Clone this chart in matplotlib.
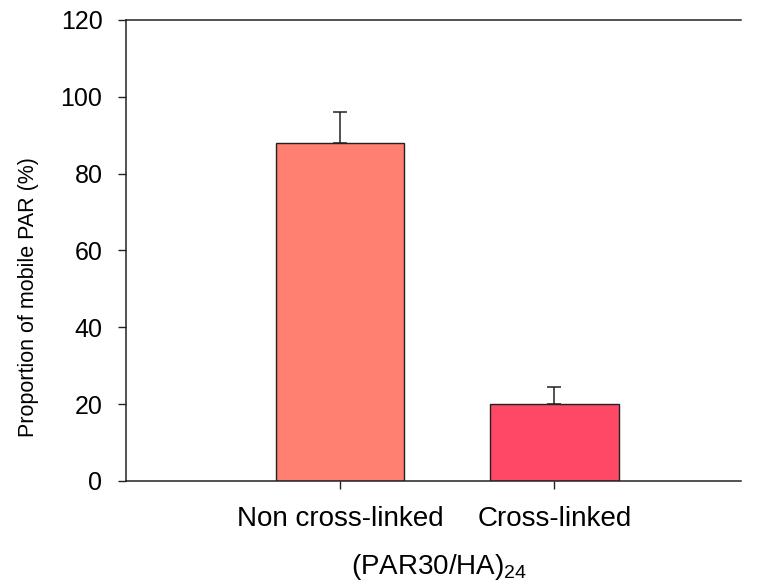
import numpy as np
import matplotlib
matplotlib.use("Agg")
import matplotlib.pyplot as plt

plt.rcParams['font.family'] = ['Liberation Sans', 'DejaVu Sans']
plt.rcParams['mathtext.fontset'] = 'custom'
plt.rcParams['mathtext.rm'] = 'Liberation Sans'

categories = ['Non cross-linked', 'Cross-linked']
values = [88, 20]
errors = [8, 4.5]
colors = ['#FF7F70', '#FF4766']

fig = plt.figure(figsize=(7.59, 5.88), dpi=100)
ax = fig.add_axes([0.166, 0.182, 0.810, 0.784])

x = np.arange(1, len(categories) + 1)
ax.bar(x, values, width=0.6, color=colors, edgecolor='#222222', linewidth=1.0, zorder=2)
ax.errorbar(x, values, yerr=[np.zeros(len(errors)), errors], fmt='none',
            ecolor='#222222', elinewidth=1.1, capsize=5, capthick=1.1, zorder=1)

ax.set_xlim(0, 2.87)
ax.set_ylim(0, 120)
ax.set_yticks(np.arange(0, 121, 20))
ax.set_xticks(x)
ax.set_xticklabels(categories)
ax.tick_params(axis='both', direction='out', length=6, width=1.0, colors='#222222',
               labelcolor='black')
ax.tick_params(axis='y', labelsize=18, pad=11)
ax.tick_params(axis='x', labelsize=20, pad=12)
ax.spines['right'].set_visible(False)
for s in ['left', 'bottom', 'top']:
    ax.spines[s].set_linewidth(1.1)
    ax.spines[s].set_color('#222222')

ax.set_ylabel('Proportion of mobile PAR (%)', fontsize=15.5)
ax.yaxis.set_label_coords(-0.142, 0.40)
ax.set_xlabel(r'(PAR30/HA)$_{24}$', fontsize=20)
ax.xaxis.set_label_coords(0.51, -0.155)

fig.savefig('out.png', dpi=100)
